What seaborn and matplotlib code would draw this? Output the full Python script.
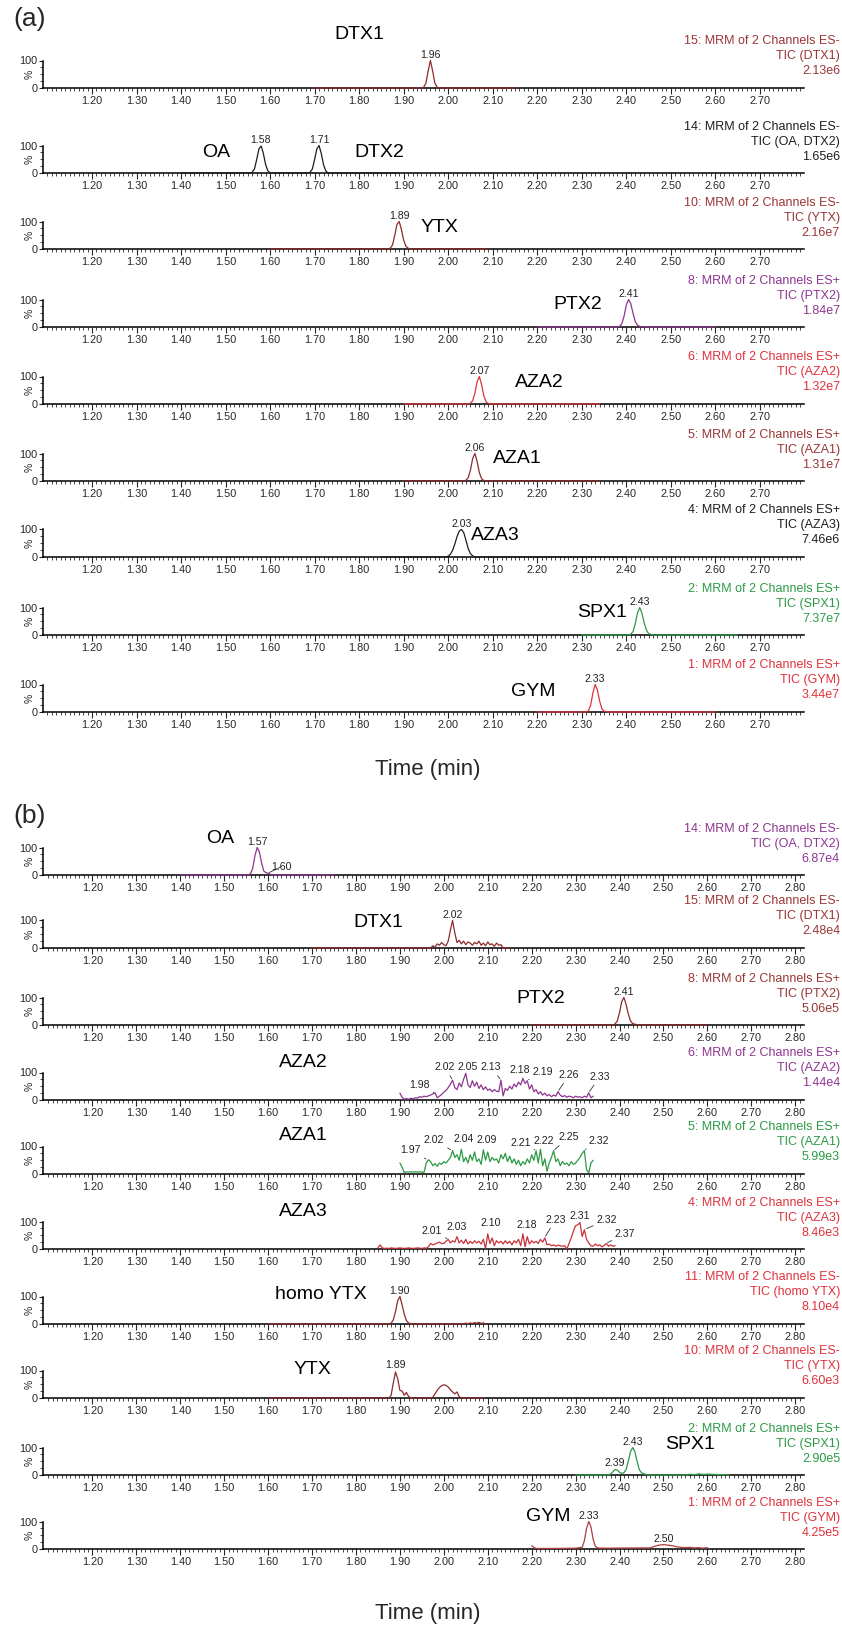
import numpy as np
import matplotlib
matplotlib.use('Agg')
import matplotlib.pyplot as plt
import matplotlib.transforms as mtransforms
from matplotlib.ticker import FixedLocator
import seaborn as sns

# colours
DKRED = '#8c2b2b'
TDKRED = '#9a3636'
RED = '#e0323c'
PURPLE = '#8e3590'
GREEN = '#2c9a45'
BLACK = '#1e1e1e'

# ---------------- panel (a): standards ----------------
A_DTX1_T = [1.70, 1.94, 1.945, 1.95, 1.955, 1.96, 1.965, 1.97, 1.975, 1.98, 2.15]
A_DTX1_I = [0, 0, 3, 18, 62, 100, 62, 18, 3, 0, 0]

A_OA_T = [1.40, 1.555, 1.56, 1.565, 1.57, 1.575, 1.58, 1.585, 1.59, 1.595, 1.60,
          1.685, 1.69, 1.695, 1.70, 1.705, 1.71, 1.715, 1.72, 1.725, 1.73, 1.89]
A_OA_I = [0, 0, 3, 15, 50, 88, 98, 70, 30, 8, 0,
          0, 3, 15, 50, 88, 100, 70, 30, 8, 0, 0]

A_YTX_T = [1.60, 1.865, 1.87, 1.875, 1.88, 1.885, 1.89, 1.895, 1.90, 1.905, 1.91, 1.915, 2.09]
A_YTX_I = [0, 0, 3, 15, 50, 90, 100, 70, 32, 10, 3, 0, 0]

A_PTX2_T = [2.20, 2.38, 2.385, 2.39, 2.395, 2.40, 2.405, 2.41, 2.415, 2.42, 2.425, 2.43, 2.44, 2.60]
A_PTX2_I = [0, 0, 3, 12, 40, 80, 100, 85, 50, 20, 7, 2, 0, 0]

A_AZA2_T = [1.90, 2.045, 2.05, 2.055, 2.06, 2.065, 2.07, 2.075, 2.08, 2.085, 2.09, 2.10, 2.34]
A_AZA2_I = [0, 0, 3, 12, 40, 82, 100, 70, 30, 8, 2, 0, 0]

A_AZA1_T = [1.90, 2.035, 2.04, 2.045, 2.05, 2.055, 2.06, 2.065, 2.07, 2.075, 2.08, 2.09, 2.34]
A_AZA1_I = [0, 0, 3, 12, 40, 82, 100, 70, 30, 8, 2, 0, 0]

A_AZA3_T = [1.85, 1.995, 2.00, 2.005, 2.01, 2.015, 2.02, 2.025, 2.03, 2.035, 2.04,
            2.045, 2.05, 2.055, 2.06, 2.40]
A_AZA3_I = [0, 0, 3, 10, 25, 48, 75, 95, 100, 88, 60, 30, 12, 4, 0, 0]

A_SPX1_T = [2.30, 2.405, 2.41, 2.415, 2.42, 2.425, 2.43, 2.435, 2.44, 2.445, 2.45, 2.46, 2.65]
A_SPX1_I = [0, 0, 3, 12, 40, 80, 100, 80, 45, 18, 5, 0, 0]

A_GYM_T = [2.20, 2.31, 2.315, 2.32, 2.325, 2.33, 2.335, 2.34, 2.345, 2.35, 2.36, 2.60]
A_GYM_I = [0, 0, 5, 25, 70, 100, 80, 40, 12, 3, 0, 0]

# ---------------- panel (b): sample ----------------
B_OA_T = [1.40, 1.555, 1.56, 1.565, 1.57, 1.575, 1.58, 1.585, 1.59, 1.595, 1.60, 1.605, 1.61, 1.75]
B_OA_I = [0, 0, 5, 25, 70, 100, 85, 45, 15, 8, 7, 3, 0, 0]

B_DTX1_T = [1.70, 1.97, 1.975, 1.98, 1.985, 1.99, 1.995, 2.00, 2.005, 2.01,
            2.015, 2.02, 2.025, 2.03, 2.035, 2.04, 2.045, 2.05, 2.055, 2.06,
            2.065, 2.07, 2.075, 2.08, 2.085, 2.09, 2.095, 2.10, 2.105, 2.11,
            2.115, 2.12, 2.125, 2.13, 2.135, 2.15]
B_DTX1_I = [0, 0, 8, 3, 15, 10, 20, 12, 8, 25,
            65, 100, 55, 20, 28, 15, 25, 12, 22, 18,
            10, 20, 15, 25, 10, 18, 8, 22, 12, 15,
            6, 18, 10, 12, 0, 0]

B_PTX2_T = [2.20, 2.385, 2.39, 2.395, 2.40, 2.405, 2.41, 2.415, 2.42, 2.425, 2.43, 2.44, 2.45, 2.60]
B_PTX2_I = [0, 0, 4, 15, 45, 85, 100, 75, 40, 15, 5, 1, 0, 0]

# noisy traces, one point every 0.005 min
B_AZA2_RANGE = (1.90, 2.34)
B_AZA2_I = [25, 10, 3, 5, 3, 6, 4, 8, 7, 12,
            10, 14, 12, 15, 18, 22, 26, 8, 14, 20,
            28, 35, 45, 58, 72, 45, 38, 62, 48, 75,
            97, 55, 45, 70, 50, 65, 42, 55, 38, 48,
            35, 40, 30, 38, 32, 30, 72, 15, 42, 35,
            50, 40, 58, 48, 65, 55, 78, 60, 70, 40,
            55, 30, 38, 22, 30, 18, 25, 15, 20, 12,
            18, 14, 30, 18, 12, 16, 10, 14, 12, 8,
            14, 10, 12, 8, 14, 10, 26, 8, 14]

B_AZA1_RANGE = (1.90, 2.34)
B_AZA1_I = [40, 25, 5, 8, 7, 8, 7, 8, 7, 8,
            7, 6, 40, 52, 45, 30, 38, 28, 40, 35,
            45, 40, 50, 60, 85, 60, 70, 50, 90, 45,
            60, 40, 70, 50, 80, 45, 55, 35, 88, 50,
            80, 45, 60, 50, 55, 40, 70, 55, 75, 45,
            65, 40, 55, 35, 50, 30, 45, 35, 55, 40,
            70, 50, 85, 40, 90, 30, 55, 10, 40, 60,
            85, 45, 55, 30, 45, 35, 40, 30, 45, 35,
            40, 50, 60, 75, 85, 15, 5, 40, 50]

B_AZA3_RANGE = (1.85, 2.39)
B_AZA3_I = [5, 15, 4, 2, 3, 2, 4, 3, 2, 3,
            4, 3, 2, 3, 4, 3, 2, 3, 4, 3,
            2, 4, 3, 8, 20, 15, 18, 22, 25, 20,
            20, 28, 35, 22, 30, 25, 45, 22, 32, 20,
            35, 18, 28, 20, 30, 22, 28, 18, 35, 2,
            55, 20, 40, 12, 30, 22, 28, 18, 30, 20,
            28, 15, 30, 22, 35, 12, 55, 8, 45, 18,
            30, 22, 28, 20, 35, 25, 40, 15, 18, 12,
            15, 10, 14, 12, 10, 12, 0, 20, 40, 65,
            85, 88, 96, 45, 70, 35, 22, 12, 10, 18,
            12, 15, 8, 12, 20, 10, 15, 10, 12]

B_HYTX_T = [1.60, 1.875, 1.88, 1.885, 1.89, 1.895, 1.90, 1.905, 1.91, 1.915, 1.92, 1.93,
            2.04, 2.05, 2.055, 2.06, 2.065, 2.07, 2.075, 2.08, 2.085, 2.09, 2.095]
B_HYTX_I = [0, 0, 3, 15, 45, 85, 100, 70, 35, 12, 3, 0,
            0, 3, 1, 4, 2, 5, 3, 6, 2, 4, 0]

B_YTX_T = [1.60, 1.875, 1.88, 1.885, 1.89, 1.895, 1.90, 1.905, 1.91, 1.915,
           1.92, 1.925, 1.97, 1.975, 1.98, 1.985, 1.99, 1.995, 2.00, 2.005,
           2.01, 2.015, 2.02, 2.025, 2.03, 2.035, 2.04, 2.09]
B_YTX_I = [0, 0, 10, 55, 95, 70, 28, 25, 10, 20,
           5, 0, 0, 3, 15, 28, 38, 45, 48, 46,
           40, 30, 22, 15, 22, 5, 0, 0]

B_SPX1_T = [2.30, 2.375, 2.38, 2.385, 2.39, 2.395, 2.40, 2.405, 2.41, 2.415,
            2.42, 2.425, 2.43, 2.435, 2.44, 2.445, 2.45, 2.46, 2.47, 2.55,
            2.56, 2.57, 2.58, 2.59, 2.60, 2.65]
B_SPX1_I = [0, 0, 4, 12, 20, 18, 10, 6, 8, 20,
            50, 85, 100, 85, 50, 20, 8, 2, 0, 0,
            3, 1, 4, 2, 3, 0]

B_GYM_T = [2.20, 2.205, 2.21, 2.25, 2.30, 2.315, 2.32, 2.325, 2.33, 2.335,
           2.34, 2.345, 2.35, 2.36, 2.47, 2.48, 2.49, 2.50, 2.51, 2.52,
           2.53, 2.54, 2.55, 2.56, 2.57, 2.58, 2.59, 2.60]
B_GYM_I = [12, 6, 2, 2, 3, 6, 30, 75, 100, 80,
           35, 10, 4, 3, 4, 10, 14, 16, 14, 12,
           8, 6, 5, 6, 4, 5, 3, 5]


def grid(rng, vals):
    return np.linspace(rng[0], rng[1], len(vals))


def header(num, pol, comp, scale):
    return ['%s: MRM of 2 Channels ES%s' % (num, pol), 'TIC (%s)' % comp, scale]


# peak labels: (text, x, y, leader_x, leader_y)
PANELS_A = [
    dict(t=A_DTX1_T, i=A_DTX1_I, c=DKRED, tc=TDKRED, head=header(15, '-', 'DTX1', '2.13e6'),
         names=[('DTX1', 1.80, 195)], peaks=[('1.96', 1.96, 103, None, None)]),
    dict(t=A_OA_T, i=A_OA_I, c=BLACK, tc=BLACK, head=header(14, '-', 'OA, DTX2', '1.65e6'),
         names=[('OA', 1.48, 75), ('DTX2', 1.845, 75)],
         peaks=[('1.58', 1.578, 103, None, None), ('1.71', 1.71, 103, None, None)]),
    dict(t=A_YTX_T, i=A_YTX_I, c=DKRED, tc=TDKRED, head=header(10, '-', 'YTX', '2.16e7'),
         names=[('YTX', 1.98, 78)], peaks=[('1.89', 1.89, 103, None, None)]),
    dict(t=A_PTX2_T, i=A_PTX2_I, c=PURPLE, tc=PURPLE, head=header(8, '+', 'PTX2', '1.84e7'),
         names=[('PTX2', 2.29, 81)], peaks=[('2.41', 2.405, 103, None, None)]),
    dict(t=A_AZA2_T, i=A_AZA2_I, c=RED, tc=RED, head=header(6, '+', 'AZA2', '1.32e7'),
         names=[('AZA2', 2.205, 77)], peaks=[('2.07', 2.07, 103, None, None)]),
    dict(t=A_AZA1_T, i=A_AZA1_I, c=DKRED, tc=TDKRED, head=header(5, '+', 'AZA1', '1.31e7'),
         names=[('AZA1', 2.155, 81)], peaks=[('2.06', 2.06, 103, None, None)]),
    dict(t=A_AZA3_T, i=A_AZA3_I, c=BLACK, tc=BLACK, head=header(4, '+', 'AZA3', '7.46e6'),
         names=[('AZA3', 2.105, 77)], peaks=[('2.03', 2.03, 103, None, None)]),
    dict(t=A_SPX1_T, i=A_SPX1_I, c=GREEN, tc=GREEN, head=header(2, '+', 'SPX1', '7.37e7'),
         names=[('SPX1', 2.345, 81)], peaks=[('2.43', 2.43, 103, None, None)]),
    dict(t=A_GYM_T, i=A_GYM_I, c=RED, tc=RED, head=header(1, '+', 'GYM', '3.44e7'),
         names=[('GYM', 2.19, 73)], peaks=[('2.33', 2.33, 103, None, None)]),
]

PANELS_B = [
    dict(t=B_OA_T, i=B_OA_I, c=PURPLE, tc=PURPLE, head=header(14, '-', 'OA, DTX2', '6.87e4'),
         names=[('OA', 1.49, 134)],
         peaks=[('1.57', 1.575, 103, None, None), ('1.60', 1.63, 12, 1.60, 7)]),
    dict(t=B_DTX1_T, i=B_DTX1_I, c=DKRED, tc=TDKRED, head=header(15, '-', 'DTX1', '2.48e4'),
         names=[('DTX1', 1.85, 92)], peaks=[('2.02', 2.02, 103, None, None)]),
    dict(t=B_PTX2_T, i=B_PTX2_I, c=DKRED, tc=TDKRED, head=header(8, '+', 'PTX2', '5.06e5'),
         names=[('PTX2', 2.22, 96)], peaks=[('2.41', 2.41, 103, None, None)]),
    dict(t=grid(B_AZA2_RANGE, B_AZA2_I), i=B_AZA2_I, c=PURPLE, tc=PURPLE,
         head=header(6, '+', 'AZA2', '1.44e4'), names=[('AZA2', 1.68, 138)],
         peaks=[('1.98', 1.945, 38, 1.978, 27), ('2.02', 2.002, 100, 2.02, 73),
                ('2.05', 2.055, 100, None, None), ('2.13', 2.107, 100, 2.13, 73),
                ('2.18', 2.172, 92, 2.18, 79), ('2.19', 2.225, 84, 2.19, 71),
                ('2.26', 2.285, 72, 2.26, 31), ('2.33', 2.355, 66, 2.33, 27)]),
    dict(t=grid(B_AZA1_RANGE, B_AZA1_I), i=B_AZA1_I, c=GREEN, tc=GREEN,
         head=header(5, '+', 'AZA1', '5.99e3'), names=[('AZA1', 1.68, 141)],
         peaks=[('1.97', 1.925, 68, 1.962, 52), ('2.02', 1.978, 105, 2.018, 86),
                ('2.04', 2.045, 108, None, None), ('2.09', 2.098, 105, None, None),
                ('2.21', 2.175, 95, 2.21, 86), ('2.22', 2.228, 103, None, None),
                ('2.25', 2.285, 115, 2.25, 86), ('2.32', 2.352, 103, 2.32, 86)]),
    dict(t=grid(B_AZA3_RANGE, B_AZA3_I), i=B_AZA3_I, c='#c8323a', tc=RED,
         head=header(4, '+', 'AZA3', '8.46e3'), names=[('AZA3', 1.68, 138)],
         peaks=[('2.01', 1.973, 48, 2.01, 36), ('2.03', 2.03, 60, None, None),
                ('2.10', 2.107, 75, None, None), ('2.18', 2.189, 70, None, None),
                ('2.23', 2.254, 88, 2.23, 42), ('2.31', 2.31, 103, None, None),
                ('2.32', 2.371, 88, 2.322, 72), ('2.37', 2.413, 38, 2.37, 21)]),
    dict(t=B_HYTX_T, i=B_HYTX_I, c=DKRED, tc=RED, head=header(11, '-', 'homo YTX', '8.10e4'),
         names=[('homo YTX', 1.72, 107)], peaks=[('1.90', 1.90, 103, None, None)]),
    dict(t=B_YTX_T, i=B_YTX_I, c=DKRED, tc=RED, head=header(10, '-', 'YTX', '6.60e3'),
         names=[('YTX', 1.70, 103)], peaks=[('1.89', 1.89, 103, None, None)]),
    dict(t=B_SPX1_T, i=B_SPX1_I, c=GREEN, tc=GREEN, head=header(2, '+', 'SPX1', '2.90e5'),
         names=[('SPX1', 2.56, 111)],
         peaks=[('2.39', 2.39, 24, None, None), ('2.43', 2.43, 103, None, None)]),
    dict(t=B_GYM_T, i=B_GYM_I, c='#b03c3c', tc=RED, head=header(1, '+', 'GYM', '4.25e5'),
         names=[('GYM', 2.237, 119)],
         peaks=[('2.33', 2.33, 103, None, None), ('2.50', 2.50, 19, None, None)]),
]

# zero line of every trace, pixels from the top of the figure
ZERO_A = [88, 173, 249, 327, 404, 481, 557, 635, 712]
ZERO_B = [875, 948, 1025, 1100, 1174, 1249, 1324, 1398, 1475, 1549]

sns.set_style('ticks')
plt.rcParams['font.family'] = ['Liberation Sans', 'DejaVu Sans']

W, H = 842, 1648
AX_L, AX_R = 43, 804
AX_H = 27.5

fig = plt.figure(figsize=(W / 100, H / 100), dpi=100)


def draw_panel(p, y0, xlim, last_major):
    ax = fig.add_axes([AX_L / W, 1 - y0 / H, (AX_R - AX_L) / W, AX_H / H])
    sns.lineplot(x=list(p['t']), y=p['i'], ax=ax, color=p['c'], lw=0.9,
                 estimator=None, sort=False, clip_on=False, zorder=4)
    ax.set_xlim(*xlim)
    ax.set_ylim(0, 100)
    ax.set_xlabel('')
    ax.set_ylabel('')
    sns.despine(ax=ax)
    for s in ('left', 'bottom'):
        ax.spines[s].set_linewidth(1.1)
        ax.spines[s].set_color('black')
    majors = np.round(np.arange(1.20, last_major + 0.001, 0.10), 2)
    minors = np.round(np.arange(1.10, xlim[1], 0.01), 2)
    ax.xaxis.set_major_locator(FixedLocator(majors))
    ax.xaxis.set_minor_locator(FixedLocator(minors))
    ax.set_xticklabels(['%.2f' % v for v in majors])
    ax.tick_params(axis='x', which='major', length=4, width=0.8, pad=1.5, labelsize=7.8)
    ax.tick_params(axis='x', which='minor', length=2.5, width=0.6)
    ax.yaxis.set_major_locator(FixedLocator([0, 100]))
    ax.yaxis.set_minor_locator(FixedLocator([25, 50, 75]))
    ax.set_yticklabels(['0', '100'])
    ax.tick_params(axis='y', which='major', length=3, width=0.8, pad=1, labelsize=7.8)
    ax.tick_params(axis='y', which='minor', length=2, width=0.6)
    ax.text(-0.011, 0.5, '%', transform=ax.transAxes, rotation=90,
            ha='right', va='center', fontsize=7.5)

    # channel header at the right edge
    tr = mtransforms.blended_transform_factory(fig.transFigure, ax.transAxes)
    for k, line in enumerate(p['head']):
        ax.text(840 / W, (46.5 - 15 * k) / AX_H, line, transform=tr, ha='right',
                va='center', fontsize=9, color=p['tc'])

    for name, x, y in p['names']:
        ax.text(x, y, name, ha='center', va='center', fontsize=14, color='black')

    for txt, tx, ty, lx, ly in p['peaks']:
        if lx is None:
            ax.text(tx, ty, txt, ha='center', va='bottom', fontsize=7.6,
                    color='#222222', clip_on=False)
        else:
            ax.annotate(txt, xy=(lx, ly), xytext=(tx, ty), ha='center', va='bottom',
                        fontsize=7.6, color='#222222', annotation_clip=False,
                        arrowprops=dict(arrowstyle='-', color='#333333', lw=0.6,
                                        shrinkA=0, shrinkB=1))
    return ax


for p, y0 in zip(PANELS_A, ZERO_A):
    draw_panel(p, y0, (1.09, 2.799), 2.70)

for p, y0 in zip(PANELS_B, ZERO_B):
    draw_panel(p, y0, (1.0875, 2.82), 2.80)

fig.text(13 / W, 1 - 19 / H, '(a)', fontsize=19, ha='left', va='center')
fig.text(13 / W, 1 - 816 / H, '(b)', fontsize=19, ha='left', va='center')
fig.text(428 / W, 1 - 769 / H, 'Time (min)', fontsize=16, ha='center', va='center')
fig.text(428 / W, 1 - 1613 / H, 'Time (min)', fontsize=16, ha='center', va='center')

fig.savefig('out.png', dpi=100)
plt.close(fig)
